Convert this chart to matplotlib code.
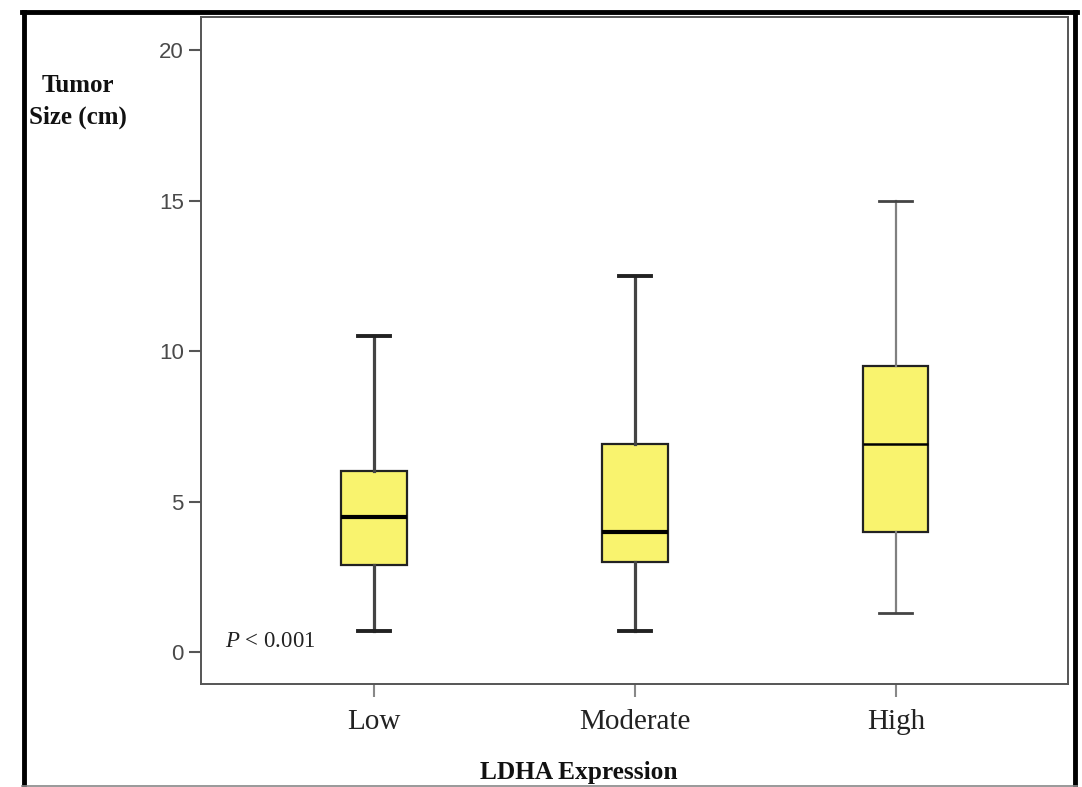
import matplotlib
matplotlib.use("Agg")
import matplotlib.pyplot as plt
from matplotlib.lines import Line2D

# Data
categories = ["Low", "Moderate", "High"]
whisker_low = [0.7, 0.7, 1.3]
q1 = [2.9, 3.0, 4.0]
medians = [4.5, 4.0, 6.9]
q3 = [6.0, 6.9, 9.5]
whisker_high = [10.5, 12.5, 15.0]
y_ticks = [0, 5, 10, 15, 20]

plt.rcParams['mathtext.fontset'] = 'custom'
plt.rcParams['mathtext.it'] = 'Liberation Serif:italic'
plt.rcParams['mathtext.rm'] = 'Liberation Serif'

W, H = 1082, 787
fig = plt.figure(figsize=(W / 100, H / 100), dpi=100)
ax = fig.add_axes([201 / W, 1 - 684 / H, (1068 - 201) / W, (684 - 17) / H])

stats = []
for i, c in enumerate(categories):
    stats.append(dict(label=c, whislo=whisker_low[i], q1=q1[i], med=medians[i],
                      q3=q3[i], whishi=whisker_high[i], fliers=[]))

bp = ax.bxp(stats, positions=[1, 2, 3], widths=0.25, patch_artist=True,
            showfliers=False,
            boxprops=dict(facecolor='#F9F36E', edgecolor='#222222', linewidth=1.6),
            medianprops=dict(color='black', linewidth=3.0),
            whiskerprops=dict(color='#444444', linewidth=2.3),
            capprops=dict(color='#222222', linewidth=2.8),
            capwidths=0.125)

# High group uses lighter lines
bp['medians'][2].set_linewidth(1.8)
for w in bp['whiskers'][4:6]:
    w.set_color('#808080')
    w.set_linewidth(1.6)
for c in bp['caps'][4:6]:
    c.set_color('#444444')
    c.set_linewidth(2.0)

ax.set_xlim(0.337, 3.66)
ax.set_ylim(-1.06, 21.1)
ax.set_yticks(y_ticks)
ax.set_yticklabels([str(t) for t in y_ticks], fontfamily='Liberation Sans',
                   fontsize=16, color='#4a4a4a')
ax.set_xticks([1, 2, 3])
ax.set_xticklabels(categories, fontfamily='Liberation Serif', fontsize=21, color='#222222')
ax.tick_params(axis='y', length=8.5, width=1.5, color='#555555', pad=4)
ax.tick_params(axis='x', length=9, width=1.5, color='#888888', pad=9)
for s in ax.spines.values():
    s.set_color('#555555')
    s.set_linewidth(1.4)

ax.text(0.43, 0.35, r'$\mathit{P}$ < 0.001', fontfamily='Liberation Serif',
        fontsize=16.5, color='#222222', va='center', ha='left')

fig.text(78 / W, 1 - 85 / H, 'Tumor', fontfamily='Liberation Serif', fontweight='bold',
         fontsize=18, ha='center', va='center', color='#111111')
fig.text(78 / W, 1 - 117 / H, 'Size (cm)', fontfamily='Liberation Serif', fontweight='bold',
         fontsize=18, ha='center', va='center', color='#111111')
fig.text(579 / W, 1 - 772 / H, 'LDHA Expression', fontfamily='Liberation Serif',
         fontweight='bold', fontsize=18.3, ha='center', va='center', color='#111111')

# Outer frame
fig.add_artist(Line2D([24 / W, 24 / W], [1 - 12 / H, 0], transform=fig.transFigure,
                      color='black', linewidth=3.5))
fig.add_artist(Line2D([22 / W, 1077 / W], [1 - 12 / H, 1 - 12 / H], transform=fig.transFigure,
                      color='black', linewidth=3.5))
fig.add_artist(Line2D([1075 / W, 1075 / W], [1 - 12 / H, 0], transform=fig.transFigure,
                      color='black', linewidth=3.5))
fig.add_artist(Line2D([22 / W, 1077 / W], [1 - 786 / H, 1 - 786 / H], transform=fig.transFigure,
                      color='#888888', linewidth=1.2))

fig.savefig('out.png', dpi=100)
